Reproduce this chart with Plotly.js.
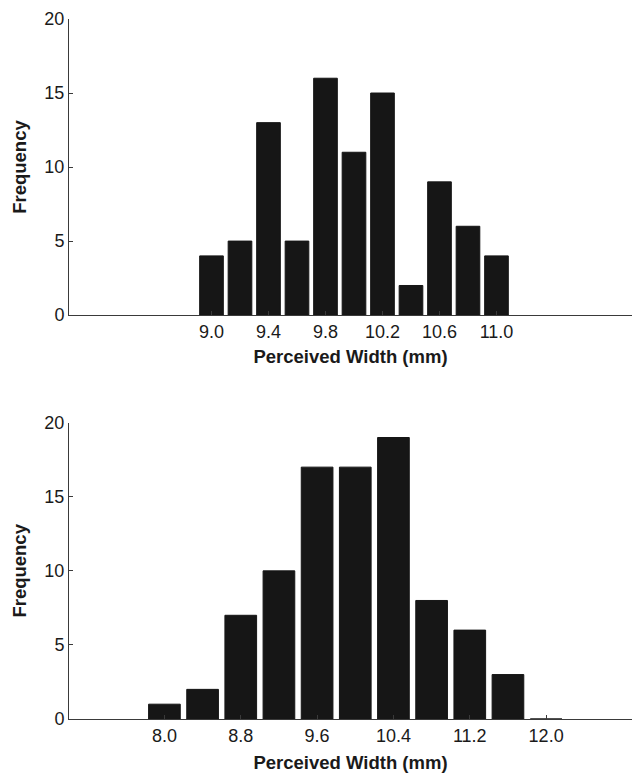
<!DOCTYPE html>
<html>
<head>
<meta charset="utf-8">
<script src="https://cdn.plot.ly/plotly-3.0.1.min.js"></script>
<style>
  html, body { margin: 0; padding: 0; background: #fff; }
  #chart { width: 632px; height: 773px; }
</style>
</head>
<body>
<div id="chart"></div>
<script>
// Top histogram
const topBins = [9.0, 9.2, 9.4, 9.6, 9.8, 10.0, 10.2, 10.4, 10.6, 10.8, 11.0];
const topCounts = [4, 5, 13, 5, 16, 11, 15, 2, 9, 6, 4];
const topTicks = [9.0, 9.4, 9.8, 10.2, 10.6, 11.0];
const topTickText = ["9.0", "9.4", "9.8", "10.2", "10.6", "11.0"];

// Bottom histogram
const botBins = [8.0, 8.4, 8.8, 9.2, 9.6, 10.0, 10.4, 10.8, 11.2, 11.6, 12.0];
const botCounts = [1, 2, 7, 10, 17, 17, 19, 8, 6, 3, 0];
const botTicks = [8.0, 8.8, 9.6, 10.4, 11.2, 12.0];
const botTickText = ["8.0", "8.8", "9.6", "10.4", "11.2", "12.0"];

const yTicks = [0, 5, 10, 15, 20];

const xLabel = "Perceived Width (mm)";
const yLabel = "Frequency";

const barColor = "#161616";
const axisColor = "#3a3a3a";
const textColor = "#1a1a1a";
const tickFont = { family: "Liberation Sans, Arial, sans-serif", size: 18, color: textColor };
const titleFont = { family: "Liberation Sans, Arial, sans-serif", size: 18.5, color: textColor, weight: "bold" };

const data = [
  {
    type: "bar", x: topBins, y: topCounts, xaxis: "x", yaxis: "y",
    marker: { color: barColor, line: { color: barColor, width: 1 } },
    hoverinfo: "skip"
  },
  {
    type: "bar", x: botBins, y: botCounts, xaxis: "x2", yaxis: "y2",
    marker: { color: barColor, line: { color: barColor, width: 1 } },
    hoverinfo: "skip"
  }
];

function xAxis(range, vals, text, anchor, standoff) {
  return {
    range: range, anchor: anchor, domain: [0, 1],
    tickmode: "array", tickvals: vals, ticktext: text,
    ticks: "inside", ticklen: 4, tickwidth: 1, tickcolor: axisColor,
    showline: true, linecolor: axisColor, linewidth: 1,
    showgrid: false, zeroline: false,
    tickfont: tickFont,
    title: { text: "<b>" + xLabel + "</b>", font: titleFont, standoff: standoff },
    automargin: false
  };
}
function yAxis(domain, anchor) {
  return {
    range: [0, 20], domain: domain, anchor: anchor,
    tickmode: "array", tickvals: yTicks,
    ticks: "inside", ticklen: 4, tickwidth: 1, tickcolor: axisColor,
    showline: true, linecolor: axisColor, linewidth: 1,
    showgrid: false, zeroline: false,
    tickfont: tickFont,
    title: { text: "<b>" + yLabel + "</b>", font: titleFont, standoff: 12 },
    automargin: false
  };
}

const layout = {
  width: 632, height: 773,
  margin: { l: 69, r: 0, t: 19, b: 54 },
  paper_bgcolor: "#fff", plot_bgcolor: "#fff",
  showlegend: false,
  bargap: 0.17,
  xaxis: xAxis([8, 11.951], topTicks, topTickText, "y", 9),
  yaxis: yAxis([0.577, 1], "x"),
  xaxis2: xAxis([7, 12.9], botTicks, botTickText, "y2", 16),
  yaxis2: yAxis([0, 0.4233], "x2")
};

Plotly.newPlot("chart", data, layout, { staticPlot: true, displayModeBar: false });
</script>
</body>
</html>
